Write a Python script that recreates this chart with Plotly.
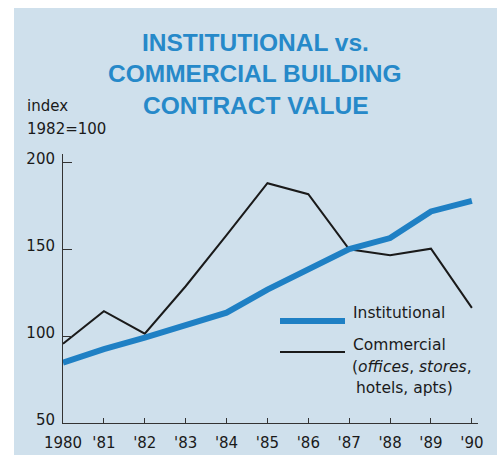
import plotly.graph_objects as go

# Contract value indexes, 1982 = 100
years = list(range(1980, 1991))
institutional = [84.7, 92.4, 99.0, 106.1, 113.4, 126.7, 138.2, 150.0, 156.3, 171.6, 177.7]
commercial = [95.6, 114.3, 101.3, 128.6, 158.0, 187.8, 181.5, 149.8, 146.4, 150.2, 116.2]
x_tick_vals = years
x_tick_text = ["1980", "'81", "'82", "'83", "'84", "'85", "'86", "'87", "'88", "'89", "'90"]
y_tick_vals = [50, 100, 150, 200]

W, H = 500, 455
L, R, T, B = 63, 22, 154, 32
PW, PH = W - L - R, H - T - B

BG = "#cfe0ec"
BLUE = "#1f80c4"
TITLE_BLUE = "#2689c9"
INK = "#1a1a1a"
SMALL = "DejaVu Sans, Arial, sans-serif"
TITLE_FONT = "Liberation Sans, Arial, sans-serif"


def fx(px):
    return (px - L) / PW


def fy(py):
    return (H - B - py) / PH


fig = go.Figure()
fig.add_trace(go.Scatter(x=years, y=commercial, mode="lines",
                         line=dict(color=INK, width=2), name="Commercial"))
fig.add_trace(go.Scatter(x=years, y=institutional, mode="lines",
                         line=dict(color=BLUE, width=6), name="Institutional"))

shapes = [
    # tinted panel behind the whole chart
    dict(type="rect", xref="paper", yref="paper", x0=fx(14), x1=fx(497),
         y0=fy(456), y1=fy(8), fillcolor=BG, line=dict(width=0), layer="below"),
    # legend samples
    dict(type="line", xref="paper", yref="paper", x0=fx(280), x1=fx(345),
         y0=fy(321), y1=fy(321), line=dict(color=BLUE, width=6)),
    dict(type="line", xref="paper", yref="paper", x0=fx(280), x1=fx(345),
         y0=fy(352), y1=fy(352), line=dict(color=INK, width=2)),
]

annotations = []
for text, py in [("INSTITUTIONAL vs.", 43), ("COMMERCIAL BUILDING", 73),
                 ("CONTRACT VALUE", 105)]:
    annotations.append(dict(text=f"<b>{text}</b>", xref="paper", yref="paper",
                            x=fx(255), y=fy(py), xanchor="center", yanchor="middle",
                            showarrow=False,
                            font=dict(family=TITLE_FONT, size=24.5, color=TITLE_BLUE)))

for text, px, py in [("index", 25, 106), ("1982=100", 25, 129)]:
    annotations.append(dict(text=text, xref="paper", yref="paper", x=fx(px), y=fy(py),
                            xanchor="left", yanchor="middle", showarrow=False,
                            font=dict(family=SMALL, size=15, color=INK)))

for text, px, py in [("Institutional", 351, 313), ("Commercial", 351, 345),
                     ("(<i>offices</i>, <i>stores</i>,", 350, 367),
                     ("hotels, apts)", 354, 388)]:
    annotations.append(dict(text=text, xref="paper", yref="paper", x=fx(px), y=fy(py),
                            xanchor="left", yanchor="middle", showarrow=False,
                            font=dict(family=SMALL, size=15.5, color=INK)))

fig.update_layout(
    width=W, height=H,
    margin=dict(l=L, r=R, t=T, b=B, pad=0, autoexpand=False),
    paper_bgcolor="white",
    plot_bgcolor="rgba(0,0,0,0)",
    showlegend=False,
    shapes=shapes,
    annotations=annotations,
    xaxis=dict(range=[1980, 1990.15], tickvals=x_tick_vals, ticktext=x_tick_text,
               showgrid=False, zeroline=False, showline=True, linecolor="#333",
               linewidth=1, ticks="inside", ticklen=5, tickcolor="#333",
               ticklabelstandoff=6, automargin=False,
               tickfont=dict(family=SMALL, size=15, color=INK)),
    yaxis=dict(range=[50, 204.6], tickvals=y_tick_vals,
               showgrid=False, zeroline=False, showline=True, linecolor="#333",
               linewidth=1, ticks="inside", ticklen=9, tickcolor="#333",
               ticklabelstandoff=4, ticklabelshift=-3, automargin=False,
               tickfont=dict(family=SMALL, size=15, color=INK)),
)

fig.write_html("out.html")
